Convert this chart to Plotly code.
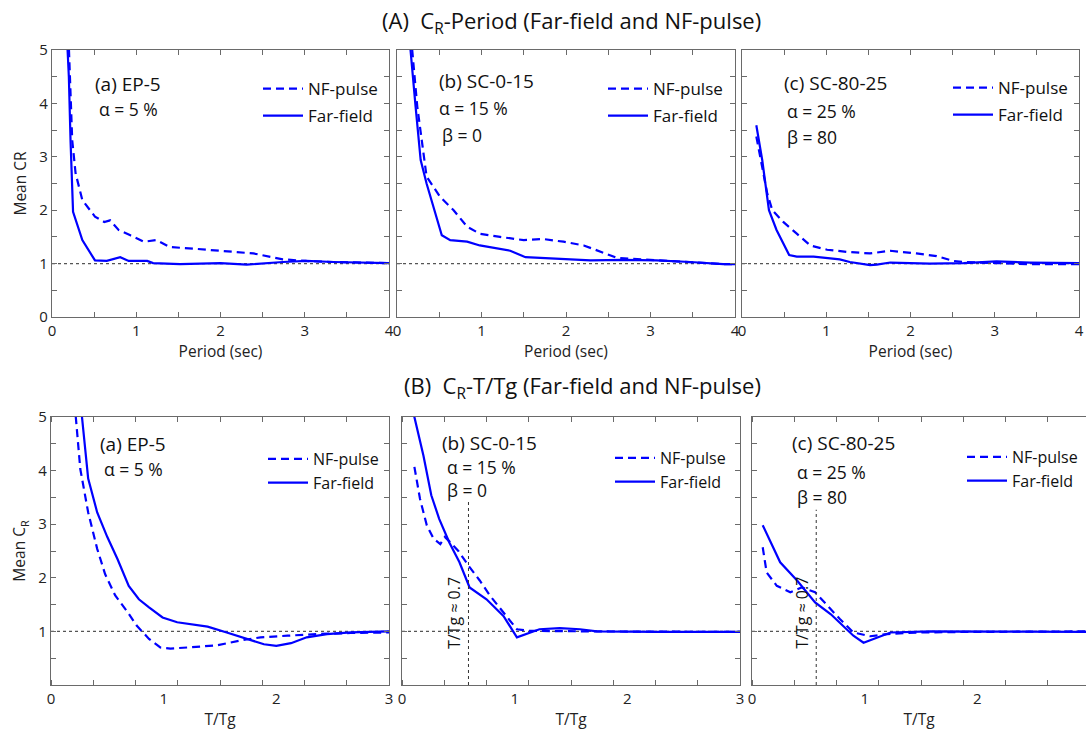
import plotly.graph_objects as go

W, H = 1086, 731
BLUE = "#0000ff"
FONT = "Open Sans"

# ---------------- data ----------------
# (A) CR vs Period
period_a_ff = [0.17, 0.20, 0.22, 0.25, 0.36, 0.51, 0.65, 0.81, 0.91, 1.13, 1.20, 1.52, 2.00, 2.31, 2.74, 3.02, 3.34, 4.00]
cr_a_ff     = [5.50, 4.50, 3.30, 1.97, 1.44, 1.06, 1.05, 1.12, 1.05, 1.05, 1.01, 0.99, 1.01, 0.98, 1.03, 1.05, 1.03, 1.01]
period_a_nf = [0.19, 0.20, 0.24, 0.28, 0.36, 0.51, 0.62, 0.69, 0.79, 0.93, 1.09, 1.24, 1.40, 1.68, 2.00, 2.39, 2.74, 3.02, 3.34, 4.00]
cr_a_nf     = [5.50, 5.00, 3.31, 2.69, 2.19, 1.88, 1.78, 1.81, 1.63, 1.53, 1.41, 1.44, 1.31, 1.28, 1.24, 1.19, 1.08, 1.05, 1.03, 1.01]

period_b_ff = [0.15, 0.16, 0.22, 0.28, 0.35, 0.43, 0.53, 0.63, 0.83, 0.98, 1.18, 1.34, 1.52, 1.66, 1.97, 2.29, 2.68, 3.07, 3.47, 3.86, 4.00]
cr_b_ff     = [5.50, 5.00, 3.94, 2.94, 2.50, 2.06, 1.53, 1.44, 1.41, 1.34, 1.28, 1.24, 1.12, 1.11, 1.09, 1.06, 1.07, 1.06, 1.03, 0.99, 0.99]
period_b_nf = [0.17, 0.18, 0.24, 0.30, 0.35, 0.51, 0.67, 0.83, 0.98, 1.22, 1.50, 1.73, 1.97, 2.21, 2.36, 2.60, 2.76, 3.07, 3.47, 3.86, 4.00]
cr_b_nf     = [5.50, 5.00, 3.94, 3.19, 2.63, 2.25, 2.00, 1.69, 1.56, 1.50, 1.44, 1.46, 1.41, 1.34, 1.25, 1.11, 1.09, 1.06, 1.03, 0.99, 0.99]

period_c_ff = [0.17, 0.24, 0.32, 0.41, 0.56, 0.65, 0.85, 1.05, 1.16, 1.28, 1.52, 1.60, 1.76, 2.23, 2.63, 3.02, 3.42, 4.00]
cr_c_ff     = [3.59, 2.94, 2.00, 1.63, 1.16, 1.13, 1.13, 1.09, 1.08, 1.03, 0.97, 0.98, 1.02, 1.00, 1.01, 1.04, 1.02, 1.01]
period_c_nf = [0.17, 0.24, 0.30, 0.36, 0.49, 0.65, 0.81, 1.01, 1.24, 1.52, 1.76, 2.07, 2.31, 2.51, 2.63, 3.02, 3.42, 4.00]
cr_c_nf     = [3.38, 2.81, 2.31, 2.00, 1.78, 1.56, 1.34, 1.26, 1.22, 1.19, 1.24, 1.19, 1.14, 1.05, 1.03, 1.01, 0.99, 0.99]

# (B) CR vs T/Tg
ttg_a_ff = [0.27, 0.275, 0.33, 0.41, 0.50, 0.59, 0.69, 0.78, 0.87, 0.99, 1.12, 1.30, 1.39, 1.56, 1.74, 1.89, 2.00, 2.13, 2.27, 2.45, 2.66, 3.00]
crb_a_ff = [5.50, 5.00, 3.85, 3.22, 2.76, 2.35, 1.85, 1.60, 1.45, 1.26, 1.17, 1.11, 1.09, 0.98, 0.86, 0.76, 0.73, 0.78, 0.89, 0.95, 0.98, 1.00]
ttg_a_nf = [0.21, 0.22, 0.26, 0.33, 0.41, 0.48, 0.57, 0.68, 0.76, 0.87, 0.97, 1.06, 1.21, 1.47, 1.68, 1.86, 2.10, 2.36, 2.66, 3.00]
crb_a_nf = [5.50, 5.00, 4.03, 3.22, 2.54, 2.07, 1.67, 1.36, 1.11, 0.86, 0.70, 0.68, 0.70, 0.74, 0.83, 0.89, 0.92, 0.95, 0.97, 0.98]

ttg_b_ff = [0.10, 0.11, 0.19, 0.26, 0.33, 0.42, 0.51, 0.60, 0.75, 0.90, 1.02, 1.13, 1.22, 1.40, 1.58, 1.73, 2.26, 3.00]
crb_b_ff = [5.30, 5.00, 4.28, 3.54, 3.10, 2.66, 2.29, 1.82, 1.60, 1.29, 0.89, 0.98, 1.04, 1.06, 1.04, 1.00, 0.99, 0.99]
ttg_b_nf = [0.11, 0.16, 0.22, 0.28, 0.34, 0.38, 0.42, 0.50, 0.60, 0.69, 0.78, 0.90, 1.02, 1.13, 1.37, 1.67, 3.00]
crb_b_nf = [4.07, 3.47, 2.98, 2.73, 2.63, 2.76, 2.68, 2.50, 2.20, 1.95, 1.67, 1.36, 1.04, 1.01, 1.01, 1.00, 0.99]

ttg_c_ff = [0.095, 0.25, 0.40, 0.56, 0.70, 0.81, 0.90, 0.99, 1.11, 1.23, 1.58, 2.18, 2.97]
crb_c_ff = [2.98, 2.29, 1.95, 1.54, 1.32, 1.11, 0.92, 0.79, 0.89, 0.98, 1.00, 1.00, 0.99]
ttg_c_nf = [0.095, 0.13, 0.22, 0.34, 0.44, 0.56, 0.67, 0.78, 0.90, 1.05, 1.20, 1.47, 1.88, 2.97]
crb_c_nf = [2.57, 2.10, 1.85, 1.73, 1.82, 1.73, 1.48, 1.23, 0.98, 0.91, 0.95, 0.98, 0.99, 1.00]

REF_LEVEL = 1.0
ttg_mark_x = [0.59, 0.57]     # vertical marker in panels (b) and (c) of row B
ttg_mark_top = [3.45, 3.27]
ttg_mark_label = "T/Tg ≈ 0.7"

panel_names = ["(a) EP-5", "(b) SC-0-15", "(c) SC-80-25"]
panel_params = [["α = 5 %"], ["α = 15 %", "β = 0"], ["α = 25 %", "β = 80"]]
series_names = ["NF-pulse", "Far-field"]

period_ticks = [0, 1, 2, 3, 4]
cr_ticks_top = [0, 1, 2, 3, 4, 5]
ttg_ticks = [0, 1, 2, 3]
cr_ticks_bot = [1, 2, 3, 4, 5]

# ---------------- layout helpers ----------------
def fx(p):
    return p / W

def fy(p):
    return 1 - p / H

top_x_dom = [(52, 389), (397, 735), (742, 1079)]
top_y_dom = (50, 317)
bot_x_dom = [(51, 389), (402, 740), (752, 1086)]
bot_y_dom = (417, 685)
bot_c_range = (1086 - 752) / ((740 - 402) / 3.0)

fig = go.Figure()

top_data = [(period_a_nf, cr_a_nf, period_a_ff, cr_a_ff),
            (period_b_nf, cr_b_nf, period_b_ff, cr_b_ff),
            (period_c_nf, cr_c_nf, period_c_ff, cr_c_ff)]
bot_data = [(ttg_a_nf, crb_a_nf, ttg_a_ff, crb_a_ff),
            (ttg_b_nf, crb_b_nf, ttg_b_ff, crb_b_ff),
            (ttg_c_nf, crb_c_nf, ttg_c_ff, crb_c_ff)]

AXC = "#6a6a6a"
AX = dict(showgrid=False, zeroline=False, showline=True, linecolor=AXC, linewidth=1.3,
          mirror="ticks", ticks="inside", ticklen=5, tickcolor=AXC, tickwidth=1,
          tickfont=dict(family=FONT, size=15, color="#222"), automargin=False)
MINOR = lambda d: dict(dtick=d, tick0=0, ticks="inside", ticklen=5, tickcolor=AXC)
TFONT = dict(family=FONT, size=15.5, color="#222")

layout = dict(width=W, height=H, margin=dict(l=0, r=0, t=0, b=0),
              paper_bgcolor="white", plot_bgcolor="white",
              font=dict(family=FONT, color="#111"), shapes=[], annotations=[])

leg_top = [(258, 71), (603, 71), (948, 70)]
leg_bot = [(263, 442), (610, 441), (962, 440)]

for row in range(2):
    data = top_data if row == 0 else bot_data
    for col in range(3):
        k = row * 3 + col + 1
        xn = "x" if k == 1 else f"x{k}"
        yn = "y" if k == 1 else f"y{k}"
        legn = "legend" if k == 1 else f"legend{k}"
        nfx, nfy, ffx, ffy = data[col]
        fig.add_trace(go.Scatter(x=nfx, y=nfy, mode="lines", name=series_names[0],
                                 line=dict(color=BLUE, width=2.2, dash="8px,5px"),
                                 xaxis=xn, yaxis=yn, legend=legn, legendgroup=f"nf{k}"))
        fig.add_trace(go.Scatter(x=ffx, y=ffy, mode="lines", name=series_names[1],
                                 line=dict(color=BLUE, width=2.2),
                                 xaxis=xn, yaxis=yn, legend=legn, legendgroup=f"ff{k}"))
        xkey = "xaxis" if k == 1 else f"xaxis{k}"
        ykey = "yaxis" if k == 1 else f"yaxis{k}"
        if row == 0:
            xd, yd = top_x_dom[col], top_y_dom
            xa = dict(AX, domain=[fx(xd[0]), fx(xd[1])], range=[0, 4], tickvals=period_ticks,
                      minor=MINOR(0.5), anchor=yn,
                      title=dict(text="Period (sec)", standoff=2, font=TFONT))
            ya = dict(AX, domain=[fy(yd[1]), fy(yd[0])], range=[0, 5], tickvals=cr_ticks_top,
                      minor=MINOR(0.5), anchor=xn, showticklabels=(col == 0))
            if col == 0:
                ya["title"] = dict(text="Mean CR", standoff=8, font=TFONT)
        else:
            xd, yd = bot_x_dom[col], bot_y_dom
            xr = [0, 3] if col < 2 else [0, bot_c_range]
            xa = dict(AX, domain=[fx(xd[0]), min(1.0, fx(xd[1]))], range=xr, tickvals=ttg_ticks,
                      ticks="", minor=MINOR(0.375), anchor=yn,
                      title=dict(text="T/Tg", standoff=6, font=TFONT))
            ya = dict(AX, domain=[fy(yd[1]), fy(yd[0])], range=[0, 5], tickvals=cr_ticks_bot,
                      minor=MINOR(0.5), anchor=xn, showticklabels=(col == 0))
            if col == 2:
                ya["mirror"] = False
            if col == 0:
                ya["title"] = dict(text="Mean C<sub>R</sub>", standoff=8, font=TFONT)
        layout[xkey] = xa
        layout[ykey] = ya

        # reference line at CR = 1
        layout["shapes"].append(dict(type="line", xref=f"{xn} domain", yref=yn, x0=0, x1=1,
                                     y0=REF_LEVEL, y1=REF_LEVEL,
                                     line=dict(color="#555", width=1.2, dash="dot"), layer="below"))
        # legend
        lx, ly = (leg_top if row == 0 else leg_bot)[col]
        layout[legn] = dict(x=fx(lx), y=fy(ly), xanchor="left", yanchor="top",
                            bgcolor="rgba(0,0,0,0)", font=dict(family=FONT, size=(17 if row == 0 else 16), color="#111"),
                            traceorder="grouped", tracegroupgap=(2 if row == 0 else 0),
                            itemwidth=40)

        # panel text
        if row == 0:
            name_pos = [(93, 84), (437, 81), (782, 83)][col]
            par_pos = [[(97, 109)], [(437, 108), (440, 135)], [(785, 111), (785, 137)]][col]
        else:
            name_pos = [(98, 444), (440, 443), (790, 443)][col]
            par_pos = [[(102, 469)], [(445, 467), (445, 490)], [(795, 472), (795, 497)]][col]
        layout["annotations"].append(dict(text=panel_names[col], xref="paper", yref="paper",
                                          x=fx(name_pos[0]), y=fy(name_pos[1]), xanchor="left", yanchor="middle",
                                          showarrow=False, font=dict(family=FONT, size=19, color="#111")))
        for t, (px_, py_) in zip(panel_params[col], par_pos):
            layout["annotations"].append(dict(text=t, xref="paper", yref="paper",
                                              x=fx(px_), y=fy(py_), xanchor="left", yanchor="middle",
                                              showarrow=False, font=dict(family=FONT, size=17.5, color="#111")))

# vertical marker lines and rotated labels (row B, panels b and c)
for i, k in enumerate([5, 6]):
    layout["shapes"].append(dict(type="line", xref=f"x{k}", yref=f"y{k}",
                                 x0=ttg_mark_x[i], x1=ttg_mark_x[i], y0=0, y1=ttg_mark_top[i],
                                 line=dict(color="#333", width=1, dash="3px,3px")))
    layout["annotations"].append(dict(text=ttg_mark_label, xref=f"x{k}", yref=f"y{k}",
                                      x=ttg_mark_x[i], y=1.35, xanchor="right", yanchor="middle",
                                      xshift=-2, textangle=-90, showarrow=False,
                                      font=dict(family=FONT, size=16, color="#111")))

# main titles
layout["annotations"].append(dict(text="(A)  C<sub>R</sub>-Period (Far-field and NF-pulse)", xref="paper", yref="paper",
                                  x=fx(571), y=fy(22), xanchor="center", yanchor="middle", showarrow=False,
                                  font=dict(family=FONT, size=22, color="#111")))
layout["annotations"].append(dict(text="(B)  C<sub>R</sub>-T/Tg (Far-field and NF-pulse)", xref="paper", yref="paper",
                                  x=fx(582), y=fy(387), xanchor="center", yanchor="middle", showarrow=False,
                                  font=dict(family=FONT, size=22, color="#111")))

fig.update_layout(**layout)
fig.write_html("out.html")
